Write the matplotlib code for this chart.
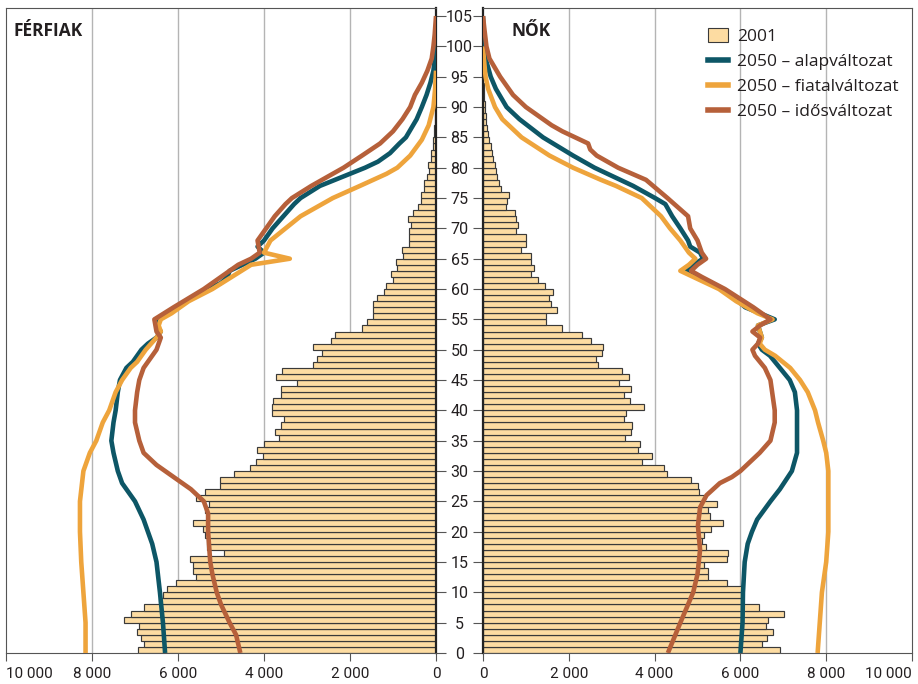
import matplotlib
matplotlib.use("Agg")
import matplotlib.pyplot as plt
from matplotlib import font_manager
from matplotlib.patches import Patch
from matplotlib.lines import Line2D

# ---------------- data ----------------
ages = list(range(0, 101))

male_2001 = [6930, 6800, 6850, 6950, 6900, 7250, 7100, 6800, 6450, 6350,
             6250, 6050, 5590, 5640, 5660, 5720, 4930, 5330, 5330, 5370,
             5410, 5640, 5330, 5370, 5290, 5590, 5370, 5020, 5020, 4700,
             4330, 4190, 4020, 4170, 3990, 3640, 3740, 3600, 3530, 3810,
             3820, 3780, 3610, 3610, 3240, 3720, 3580, 2850, 2770, 2660,
             2870, 2440, 2350, 1730, 1610, 1470, 1470, 1470, 1380, 1200,
             1160, 990, 1050, 910, 930, 760, 800, 620, 620, 620,
             570, 640, 530, 430, 360, 360, 270, 270, 220, 160,
             180, 110, 110, 80, 60, 50, 40, 30, 25, 20,
             15, 10, 8, 6, 4, 3, 2, 1, 1, 0, 0]

female_2001 = [6920, 6500, 6630, 6750, 6600, 6650, 7020, 6430, 6030, 6030,
               6030, 5680, 5250, 5250, 5140, 5680, 5700, 5200, 5100, 5160,
               5310, 5590, 5280, 5250, 5450, 5140, 5030, 5000, 4860, 4300,
               4220, 3710, 3950, 3620, 3660, 3320, 3450, 3480, 3290, 3330,
               3760, 3430, 3290, 3460, 3160, 3400, 3240, 2690, 2630, 2770,
               2800, 2510, 2300, 1850, 1470, 1480, 1720, 1590, 1540, 1640,
               1450, 1290, 1130, 1200, 1110, 1130, 890, 1000, 1000, 770,
               820, 770, 750, 530, 570, 610, 410, 370, 330, 300,
               280, 240, 210, 190, 140, 110, 90, 70, 60, 50,
               40, 30, 20, 15, 10, 8, 5, 3, 2, 1, 0]

# 2050 projections (age, value) - men
m_alap_age = [0, 5, 10, 15, 18, 20, 22, 25, 28, 30, 33, 35, 38, 40, 43, 45, 47, 48, 50, 51, 52, 53, 54, 55, 56, 57, 58, 60, 61, 62, 63, 64, 65, 66, 67, 68, 70, 72, 74, 75, 77, 78, 80, 81, 82.4, 84, 85, 88, 90, 92, 94, 96, 98, 100, 103]
m_alap_val = [6300, 6350, 6420, 6500, 6600, 6700, 6800, 7000, 7300, 7400, 7500, 7550, 7500, 7450, 7400, 7350, 7200, 7050, 6850, 6700, 6500, 6400, 6500, 6450, 6200, 6000, 5800, 5300, 5000, 4850, 4800, 4500, 4200, 4000, 4150, 4000, 3800, 3550, 3300, 3150, 2700, 2350, 1650, 1350, 1070, 850, 700, 450, 330, 220, 130, 60, 25, 10, 0]

m_fiatal_age = [0, 5, 10, 15, 20, 25, 30, 33, 35, 38, 40, 43, 45, 47, 48, 50, 52, 53, 54, 55, 56, 58, 60, 62, 64, 65, 66, 68, 70, 72, 73, 75, 77, 79, 80, 82, 84.6, 87, 90, 93, 96]
m_fiatal_val = [8150, 8150, 8200, 8250, 8280, 8280, 8200, 8050, 7900, 7750, 7600, 7450, 7300, 7100, 6950, 6750, 6500, 6400, 6450, 6400, 6150, 5750, 5200, 4750, 4300, 3400, 4000, 3850, 3500, 3150, 2900, 2400, 1770, 1150, 900, 600, 330, 170, 60, 20, 0]

m_idos_age = [0, 3, 5, 8, 10, 13, 15, 20, 23, 25, 27, 29, 31, 33, 35, 38, 40, 43, 45, 47, 49, 50, 52, 53, 55, 57, 60, 62, 64, 65, 66, 68, 70, 72, 74, 75, 77, 79, 80, 82, 84, 86, 88, 90, 92, 94, 96, 98, 100, 102, 105]
m_idos_val = [4550, 4650, 4800, 5000, 5100, 5200, 5250, 5300, 5300, 5400, 5700, 6100, 6500, 6800, 6900, 7000, 7000, 6950, 6900, 6800, 6600, 6500, 6400, 6500, 6550, 6100, 5400, 5000, 4600, 4300, 4100, 4150, 3950, 3750, 3500, 3350, 2900, 2400, 2150, 1720, 1300, 1000, 780, 600, 490, 330, 200, 100, 60, 30, 0]

# 2050 projections - women
f_alap_age = [0, 5, 10, 15, 18, 20, 22, 25, 27, 30, 33, 35, 40, 43, 45, 47, 49, 50, 51, 52, 54, 55, 56, 57, 58, 60, 61, 62, 63, 64, 65, 66, 67, 68, 70, 72, 74, 75, 77, 78, 80, 82, 85, 88, 90, 93, 95, 98, 100, 103, 105]
f_alap_val = [6000, 6050, 6060, 6100, 6170, 6270, 6390, 6700, 6920, 7200, 7320, 7320, 7320, 7270, 7150, 6920, 6690, 6500, 6410, 6500, 6410, 6800, 6460, 6110, 5950, 5570, 5300, 4950, 4710, 4900, 5130, 5060, 4830, 4780, 4600, 4410, 4250, 4010, 3500, 3200, 2600, 2100, 1400, 850, 550, 300, 180, 60, 30, 10, 0]

f_fiatal_age = [0, 5, 10, 15, 20, 25, 30, 33, 35, 38, 40, 43, 45, 47, 49, 50, 51, 52, 54, 55, 56, 58, 60, 62, 63, 64, 65, 66, 68, 70, 72, 75, 77, 78, 80, 82, 85, 88, 90, 93, 95, 98, 100]
f_fiatal_val = [7800, 7850, 7900, 8000, 8050, 8050, 8050, 8000, 7930, 7810, 7740, 7570, 7390, 7160, 6810, 6570, 6450, 6500, 6410, 6750, 6400, 5900, 5500, 4900, 4600, 4800, 4950, 4800, 4600, 4360, 4150, 3700, 3100, 2750, 2100, 1550, 900, 450, 280, 120, 60, 20, 0]

f_idos_age = [0, 5, 10, 13, 17, 21, 24, 26, 28, 29, 30, 33, 35, 38, 40, 43, 45, 47, 49, 50, 51, 52, 53, 54, 55, 57, 60, 62, 63, 64, 65, 66, 68, 70, 72, 75, 78, 80, 81, 82, 83, 84, 85, 86, 87, 88, 90, 92, 95, 98, 100, 103, 105]
f_idos_val = [4310, 4600, 4900, 5000, 5060, 5010, 5060, 5210, 5520, 5800, 6000, 6450, 6700, 6800, 6800, 6740, 6700, 6570, 6340, 6280, 6410, 6460, 6280, 6460, 6700, 6300, 5640, 5100, 4850, 5000, 5200, 5100, 5000, 4830, 4780, 4300, 3800, 3150, 2900, 2650, 2500, 2450, 2150, 1850, 1600, 1400, 1000, 700, 400, 150, 80, 30, 0]

legend_labels = ["2001", "2050 – alapváltozat", "2050 – fiatalváltozat", "2050 – idősváltozat"]
xticks = [0, 2000, 4000, 6000, 8000, 10000]
xtick_labels = ["0", "2 000", "4 000", "6 000", "8 000", "10 000"]
yticks = list(range(0, 106, 5))

# ---------------- style ----------------
BAR = "#fddca2"
EDGE = "#3a3a3a"
C_ALAP = "#0d5666"
C_FIAT = "#eea43c"
C_IDOS = "#b6603a"
GRID = "#b4b4b4"
TXT = "#231f20"

installed = {f.name for f in font_manager.fontManager.ttflist}
narrow = "Liberation Sans Narrow" if "Liberation Sans Narrow" in installed else "Roboto"
plt.rcParams['font.family'] = ['Open Sans', 'DejaVu Sans']
tick_font = dict(family=[narrow, 'DejaVu Sans'], size=11.5)
xtick_font = dict(family=[narrow, 'DejaVu Sans'], size=11)

W, H = 918, 684
fig = plt.figure(figsize=(W / 100, H / 100), dpi=100)
top_px, bot_px = 8, 653
axL = fig.add_axes([6 / W, (H - bot_px) / H, (436 - 6) / W, (bot_px - top_px) / H])
axR = fig.add_axes([483 / W, (H - bot_px) / H, (912 - 483) / W, (bot_px - top_px) / H])

ymax = (bot_px - top_px) / 6.066

for ax, bars, series, side in [
    (axL, male_2001, [(m_alap_age, m_alap_val, C_ALAP), (m_fiatal_age, m_fiatal_val, C_FIAT), (m_idos_age, m_idos_val, C_IDOS)], "L"),
    (axR, female_2001, [(f_alap_age, f_alap_val, C_ALAP), (f_fiatal_age, f_fiatal_val, C_FIAT), (f_idos_age, f_idos_val, C_IDOS)], "R"),
]:
    ax.set_xlim(0, 10000)
    if side == "L":
        ax.invert_xaxis()
    ax.set_ylim(0, ymax)
    for g in [2000, 4000, 6000, 8000]:
        ax.axvline(g, color=GRID, lw=1.0, zorder=0)
    ax.barh(ages, bars, height=1.0, align="edge", color=BAR, edgecolor=EDGE, linewidth=0.85, zorder=2)
    for a, v, c in series:
        ax.plot(v, a, color=c, lw=3.3, solid_capstyle="butt", solid_joinstyle="round", zorder=3)
    ax.set_xticks(xticks)
    ax.set_xticklabels(xtick_labels, fontdict=xtick_font)
    ax.tick_params(axis="x", direction="out", length=6, width=0.8, color="#555555", pad=4, labelcolor=TXT)
    ax.set_yticks(yticks)
    for s in ax.spines.values():
        s.set_color("#555555")
        s.set_linewidth(0.8)

# edge labels of the x axes stay inside the figure
axL.get_xticklabels()[-1].set_ha("left")
axR.get_xticklabels()[-1].set_ha("right")

# central spines heavier
axL.spines["right"].set_color("#222222")
axL.spines["right"].set_linewidth(1.6)
axR.spines["left"].set_color("#222222")
axR.spines["left"].set_linewidth(1.6)

axL.tick_params(axis="y", left=False, labelleft=False, right=True, labelright=True,
                direction="out", length=7, width=0.8, color="#555555", pad=10, labelcolor=TXT)
axL.set_yticklabels([str(t) for t in yticks], fontdict=tick_font)
for lbl in axL.get_yticklabels():
    lbl.set_ha("center")
axR.tick_params(axis="y", left=True, labelleft=False, right=False, labelright=False,
                direction="out", length=7, width=0.8, color="#555555")

axL.text(0.018, 0.978, "FÉRFIAK", transform=axL.transAxes, fontsize=12.5, fontweight="bold", va="top", ha="left", color=TXT)
axR.text(0.067, 0.978, "NŐK", transform=axR.transAxes, fontsize=12.5, fontweight="bold", va="top", ha="left", color=TXT)

handles = [Patch(facecolor=BAR, edgecolor=EDGE, linewidth=0.8),
           Line2D([0], [0], color=C_ALAP, lw=4),
           Line2D([0], [0], color=C_FIAT, lw=4),
           Line2D([0], [0], color=C_IDOS, lw=4)]
leg = axR.legend(handles, legend_labels, loc="upper left",
                 bbox_to_anchor=((708 - 483) / 429, (653 - 28) / 645), frameon=False,
                 fontsize=12.5, handlelength=1.15, handleheight=0.85, handletextpad=0.5,
                 labelspacing=0.47, borderpad=0.0, borderaxespad=0.0)
for t in leg.get_texts():
    t.set_color(TXT)

fig.savefig("out.png", dpi=100)
